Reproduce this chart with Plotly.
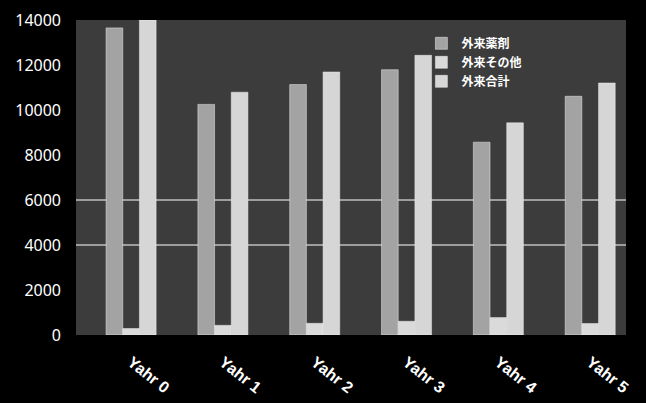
import plotly.graph_objects as go

categories = ["Yahr 0", "Yahr 1", "Yahr 2", "Yahr 3", "Yahr 4", "Yahr 5"]
series_names = ["外来薬剤", "外来その他", "外来合計"]
drug = [13650, 10250, 11130, 11790, 8570, 10610]
other = [290, 430, 520, 610, 775, 510]
total = [14000, 10790, 11690, 12430, 9430, 11200]
y_ticks = [0, 2000, 4000, 6000, 8000, 10000, 12000, 14000]
visible_gridlines = [4000, 6000]

colors = ["#a3a3a3", "#dadada", "#d6d6d6"]
values = [drug, other, total]

fig = go.Figure()
for name, vals, col in zip(series_names, values, colors):
    fig.add_trace(go.Bar(
        x=categories, y=vals, name=name,
        marker=dict(color=col, line=dict(color="#ececec", width=0.5)),
    ))

for g in visible_gridlines:
    fig.add_shape(type="line", xref="paper", x0=0, x1=1, yref="y", y0=g, y1=g,
                  line=dict(color="#ffffff", width=1), layer="below")

fig.update_layout(
    width=646, height=403,
    margin=dict(l=76, r=20, t=19.5, b=67.5),
    paper_bgcolor="#000000",
    plot_bgcolor="#3c3c3c",
    barmode="group",
    bargap=0.455,
    bargroupgap=0,
    showlegend=True,
    legend=dict(
        x=0.628, y=0.972, xanchor="left", yanchor="top",
        bgcolor="rgba(0,0,0,0)",
        font=dict(family="Noto Sans CJK JP", size=12, color="#ffffff", weight="bold"),
        itemwidth=30, tracegroupgap=3,
    ),
    xaxis=dict(
        range=[-0.6, 5.39],
        tickangle=38,
        automargin=False,
        showgrid=False, zeroline=False, showline=False,
        tickfont=dict(family="Liberation Sans", size=16, color="#ffffff", weight="bold"),
        ticks="", ticklabelstandoff=14,
    ),
    yaxis=dict(
        range=[0, 14000],
        automargin=False,
        tickvals=y_ticks,
        ticktext=[str(v) for v in y_ticks],
        showgrid=False, zeroline=False, showline=False,
        tickfont=dict(family="Noto Sans", size=16, color="#ffffff"),
        ticks="", ticklabelstandoff=14,
    ),
)

fig.write_html("out.html")
